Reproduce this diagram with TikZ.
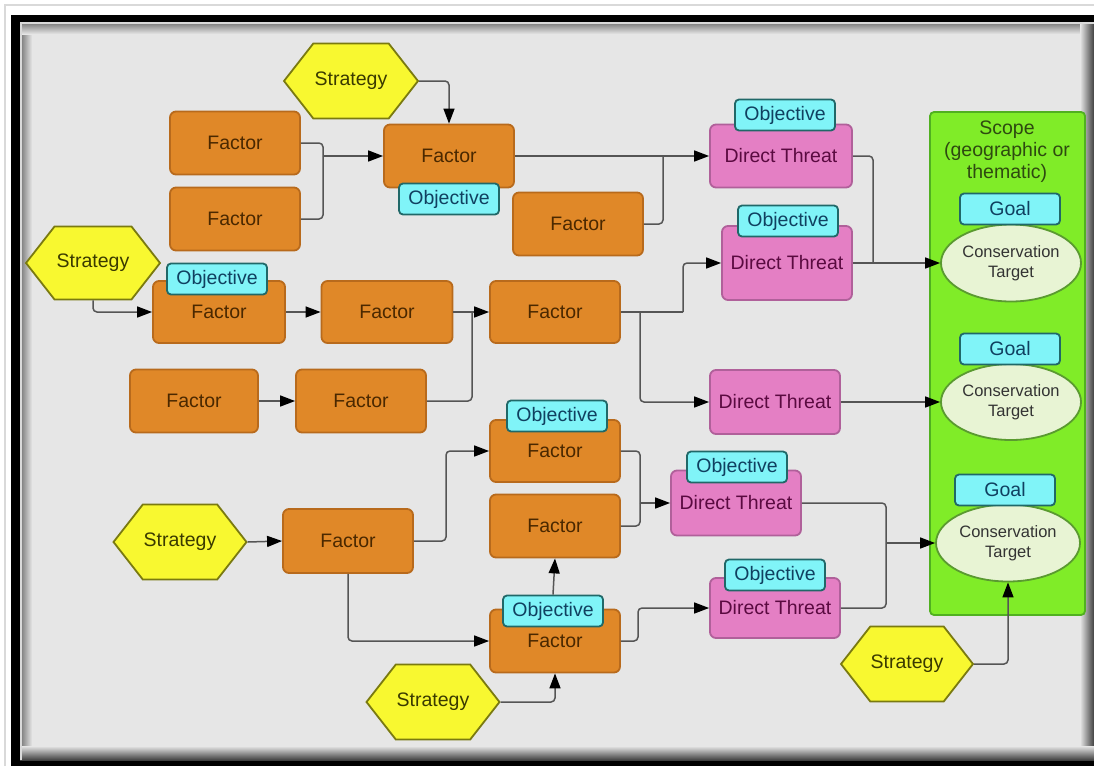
\documentclass[tikz,border=0pt]{standalone}
\usepackage{fontspec}
\setmainfont{Liberation Sans}
\usetikzlibrary{shapes.symbols,shapes.geometric,arrows.meta}
\definecolor{bgc}{HTML}{E6E6E6}
\definecolor{facfill}{HTML}{E08828}
\definecolor{facdraw}{HTML}{B86A1C}
\definecolor{factext}{HTML}{4A2800}
\definecolor{dtfill}{HTML}{E47FC4}
\definecolor{dtdraw}{HTML}{B0609A}
\definecolor{dttext}{HTML}{5A0A40}
\definecolor{stfill}{HTML}{F8F830}
\definecolor{stdraw}{HTML}{7A7A10}
\definecolor{sttext}{HTML}{3A3A00}
\definecolor{objfill}{HTML}{80F4F8}
\definecolor{objdraw}{HTML}{206868}
\definecolor{objtext}{HTML}{104060}
\definecolor{scfill}{HTML}{80EC28}
\definecolor{scdraw}{HTML}{50B020}
\definecolor{sctext}{HTML}{2E4A10}
\definecolor{ctfill}{HTML}{E8F4D4}
\definecolor{ctdraw}{HTML}{5A9A30}
\definecolor{linec}{HTML}{555555}
\begin{document}
\begin{tikzpicture}[x=1pt,y=-1pt,
  txt/.style={font=\fontsize{19.5}{22}\selectfont},
  factor/.style={txt,rectangle,rounded corners=6pt,fill=facfill,draw=facdraw,line width=1.8pt,text=factext,minimum width=130pt,minimum height=63pt,inner sep=0pt},
  threat/.style={txt,rectangle,rounded corners=6pt,fill=dtfill,draw=dtdraw,line width=1.8pt,text=dttext,minimum width=130pt,minimum height=63pt,inner sep=0pt},
  strat/.style={txt,signal,signal to=west and east,signal pointer angle=104,fill=stfill,draw=stdraw,line width=1.8pt,text=sttext,minimum width=134pt,minimum height=75pt,inner sep=0pt},
  obj/.style={txt,rectangle,rounded corners=4pt,fill=objfill,draw=objdraw,line width=1.8pt,text=objtext,minimum width=100pt,minimum height=31pt,inner sep=0pt},
  target/.style={ellipse,fill=ctfill,draw=ctdraw,line width=1.8pt,text=black!80,font=\fontsize{16.5}{20}\selectfont,align=center,inner sep=0pt},
  plain/.style={draw=linec,line width=1.5pt,rounded corners=4pt},
  conn/.style={plain,-{Triangle[length=15pt,width=11pt,color=black,fill=black]}}
]
\useasboundingbox (0,0) rectangle (1094,766);
% frame
\fill[white] (0,0) rectangle (1094,766);
\draw[black!15,line width=2pt] (5,766) -- (5,5) -- (1094,5);
\fill[black] (11,15) rectangle (1094,766);
\fill[bgc] (20,22) rectangle (1094,760);
\shade[left color=black!55,right color=bgc] (20,22) rectangle (32,760);
\shade[top color=black!55,bottom color=bgc] (20,22) rectangle (1094,34);
\shade[left color=bgc,right color=black!75] (1080,22) rectangle (1094,760);
\shade[top color=bgc,bottom color=black!75] (20,746) rectangle (1094,760);
\draw[white!85!black,line width=1.5pt] (21,760) -- (21,23) -- (1094,23);

% scope
\node[draw=scdraw,fill=scfill,line width=1.8pt,rounded corners=4pt,minimum width=155pt,minimum height=503pt,inner sep=0pt] (scope) at (1007.5,363.5) {};
\node[txt,align=center,text=sctext] (scopet) at (1007,152) {Scope\\[0pt](geographic or\\[0pt]thematic)};

% factors
\node[factor] (fa) at (235,143) {Factor};
\node[factor] (fb) at (235,219) {Factor};
\node[factor] (fc) at (449,156) {Factor};
\node[factor] (fd) at (578,224) {Factor};
\node[factor,minimum width=132pt,minimum height=62pt] (fe) at (219,312) {Factor};
\node[factor,minimum width=131pt,minimum height=62pt] (ff) at (387,312) {Factor};
\node[factor,minimum height=62pt] (fg) at (555,312) {Factor};
\node[factor,minimum width=128pt] (fh) at (194,401) {Factor};
\node[factor] (fi) at (361,401) {Factor};
\node[factor,minimum height=62pt] (fj) at (555,451) {Factor};
\node[factor] (fk) at (555,526) {Factor};
\node[factor,minimum height=64pt] (fl) at (348,541) {Factor};
\node[factor] (fm) at (555,641) {Factor};

% threats
\node[threat,minimum width=142pt] (dt1) at (781,156) {Direct Threat};
\node[threat,minimum height=74pt] (dt2) at (787,263) {Direct Threat};
\node[threat,minimum height=64pt] (dt3) at (775,402) {Direct Threat};
\node[threat,minimum height=65pt] (dt4) at (736,503) {Direct Threat};
\node[threat,minimum height=60pt] (dt5) at (775,608) {Direct Threat};

% strategies
\node[strat] (st1) at (351,81) {Strategy};
\node[strat,minimum height=73pt] (st2) at (93,263) {Strategy};
\node[strat,minimum width=133pt] (st3) at (180,542) {Strategy};
\node[strat,minimum width=133pt] (st4) at (433,702) {Strategy};
\node[strat,minimum width=132pt] (st5) at (907,664) {Strategy};

% objectives
\node[obj] (oc) at (449,199) {Objective};
\node[obj] (o1) at (785,115) {Objective};
\node[obj] (o2) at (788,221) {Objective};
\node[obj] (oe) at (217,279) {Objective};
\node[obj] (oj) at (557,416) {Objective};
\node[obj] (o4) at (737,467) {Objective};
\node[obj] (om) at (553,611) {Objective};
\node[obj] (o5) at (775,575) {Objective};

% goals and targets
\node[target,minimum width=140pt,minimum height=77pt] (ct1) at (1011,263) {Conservation\\Target};
\node[target,minimum width=140pt,minimum height=76pt] (ct2) at (1011,402) {Conservation\\Target};
\node[target,minimum width=144pt,minimum height=77pt] (ct3) at (1008,543) {Conservation\\Target};
\node[obj] (g1) at (1010,209) {Goal};
\node[obj] (g2) at (1010,349) {Goal};
\node[obj] (g3) at (1005,490) {Goal};

% junction points
\coordinate (j1) at (323,156);
\coordinate (j2) at (663,156);
\coordinate (j3) at (873,263);
\coordinate (j4) at (472,312);
\coordinate (j5) at (640,312);
\coordinate (j6) at (683,312);
\coordinate (j7) at (446,541);
\coordinate (j8) at (640,503);
\coordinate (j9) at (886,543);
\coordinate (j10) at (638,641);

% connectors
\draw[conn] (st1.east) -| (fc.north);
\draw[plain] (fa.east) -| (j1);
\draw[plain] (fb.east) -| (j1);
\draw[conn] (j1) -- (fc.west);
\draw[conn] (fc.east) -- (dt1.west);
\draw[plain] (fd.east) -| (j2);
\draw[plain] (dt1.east) -| (j3);
\draw[conn] (dt2.east) -- (ct1.west);
\draw[conn] (st2.south) |- (fe.west);
\draw[conn] (fe.east) -- (ff.west);
\draw[conn] (ff.east) -- (fg.west);
\draw[plain] (fi.east) -| (j4);
\draw[plain] (fg.east) -- (j6);
\draw[conn] (j6) |- (dt2.west);
\draw[conn] (j5) |- (dt3.west);
\draw[conn] (fh.east) -- (fi.west);
\draw[conn] (dt3.east) -- (ct2.west);
\draw[conn] (st3.east) -- (fl.west);
\draw[conn] (fl.east) -- (j7) |- (fj.west);
\draw[conn] (fl.south) |- (fm.west);
\draw[plain] (fj.east) -| (j8);
\draw[plain] (fk.east) -| (j8);
\draw[conn] (j8) -- (dt4.west);
\draw[conn] (om.north) -- (fk.south);
\draw[conn] (st4.east) -| (fm.south);
\draw[conn] (fm.east) -- (j10) |- (dt5.west);
\draw[plain] (dt4.east) -| (j9);
\draw[plain] (dt5.east) -| (j9);
\draw[conn] (j9) -- (ct3.west);
\draw[conn] (st5.east) -| (ct3.south);
\end{tikzpicture}
\end{document}
